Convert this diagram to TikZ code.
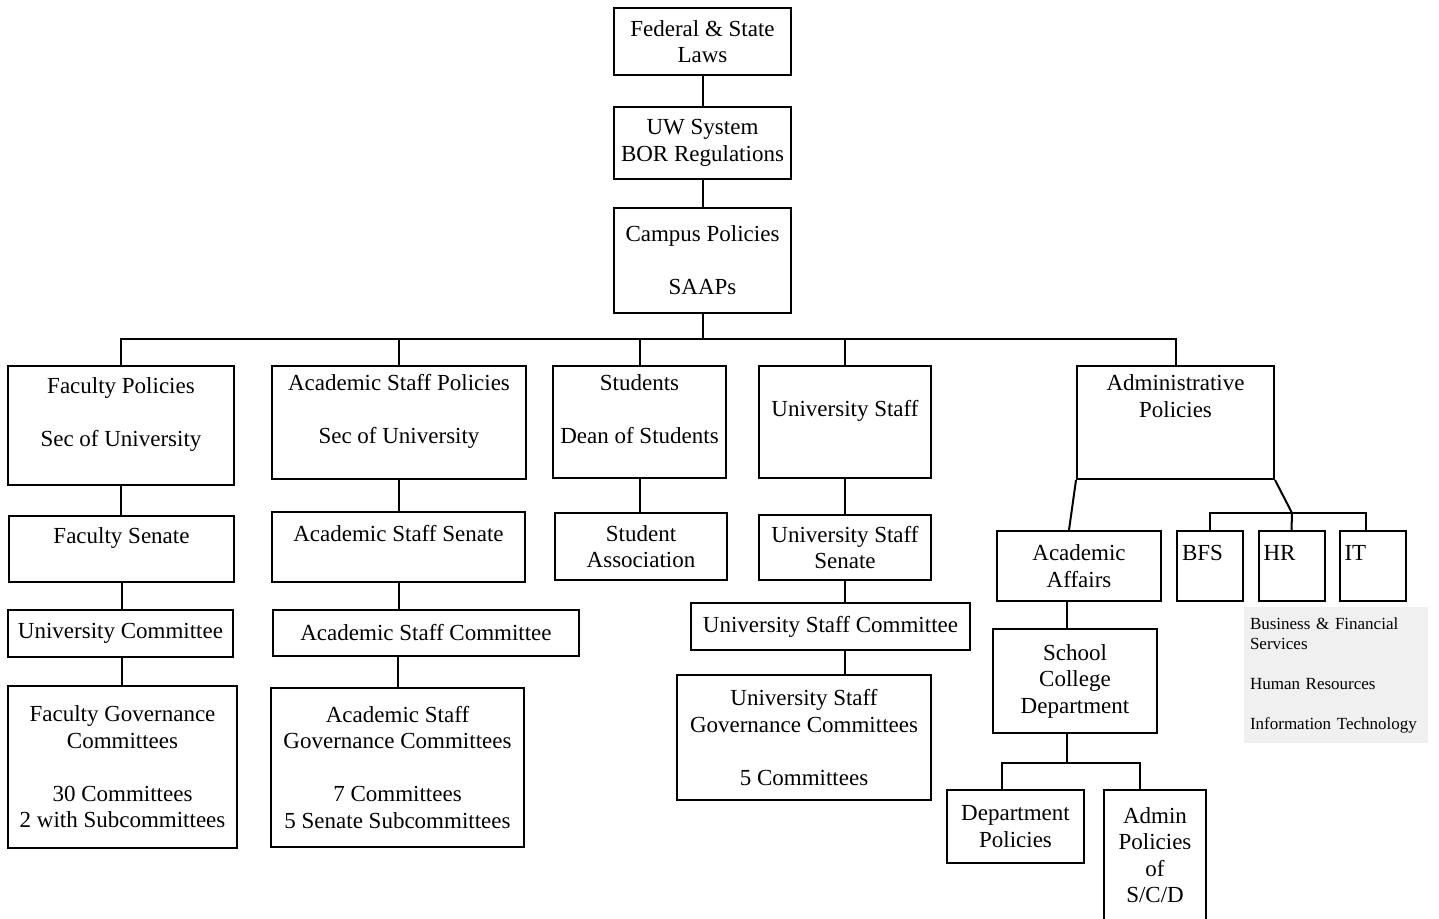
\documentclass[tikz,border=0pt]{standalone}
\usepackage{fontspec}
\setmainfont{Liberation Serif}
\usepackage{tikz}
\usetikzlibrary{positioning}
\tikzset{box/.style={ % Sets the properties for each box
    draw, line width=2pt,
    align=center, inner sep=2pt,
    font=\fontsize{23}{26.5}\selectfont},
    tagbox/.style={ % Small boxes with the label at the top left
    box, align=left, text width=56pt,
    minimum width=66pt, minimum height=70pt},
    keybox/.style={ % Gray key with the long names
    fill=black!6, align=left, inner sep=6pt,
    font=\fontsize{17}{20}\selectfont},
    link/.style={line width=2pt}}

\begin{document}
\begin{tikzpicture}[x=1pt, y=-1pt]
        \useasboundingbox (0,0) rectangle (1439,918);

        % Top of the chain
        \node[box, minimum width=177pt, minimum height=67pt] (law) at (702.5,41.5) {Federal \& State\\Laws};
        \node[box, minimum width=177pt, minimum height=72pt] (bor) at (702.5,143) {UW System\\BOR Regulations};
        \node[box, minimum width=177pt, minimum height=105pt] (campus) at (702.5,260.5) {Campus Policies\\~\\SAAPs};

        % First row
        \node[box, minimum width=226pt, minimum height=119pt] (facpol) at (121,425.5) {Faculty Policies\\~\\Sec of University\\~};
        \node[box, minimum width=254pt, minimum height=113pt] (acapol) at (399,422.5) {Academic Staff Policies\\~\\Sec of University\\~};
        \node[box, minimum width=173pt, minimum height=112pt] (stud) at (639.5,422) {Students\\~\\Dean of Students\\~};
        \node[box, minimum width=172pt, minimum height=112pt] (ustaff) at (845,422) {University Staff\\~};
        \node[box, minimum width=197pt, minimum height=113pt] (admpol) at (1175.5,422.5) {Administrative\\Policies\\~\\~};

        % Senates
        \node[box, minimum width=225pt, minimum height=66pt] (facsen) at (121.5,549) {Faculty Senate\\~};
        \node[box, minimum width=253pt, minimum height=70pt] (acasen) at (398.5,547) {Academic Staff Senate\\~};
        \node[box, minimum width=172pt, minimum height=67pt] (studas) at (641,546.5) {Student\\Association};
        \node[box, minimum width=172pt, minimum height=65pt] (ussen) at (845,547.5) {University Staff\\Senate};

        % Committees
        \node[box, minimum width=225pt, minimum height=47pt] (unicom) at (120.5,633.5) {University Committee};
        \node[box, minimum width=306pt, minimum height=46pt] (acacom) at (426,633) {Academic Staff Committee};
        \node[box, minimum width=279pt, minimum height=47pt] (uscom) at (830.5,626.5) {University Staff Committee};

        % Governance committees
        \node[box, minimum width=229pt, minimum height=162pt] (facgov) at (122.5,767) {Faculty Governance\\Committees\\~\\30 Committees\\2 with Subcommittees};
        \node[box, minimum width=253pt, minimum height=159pt] (acagov) at (397.5,767.5) {Academic Staff\\Governance Committees\\~\\7 Committees\\5 Senate Subcommittees};
        \node[box, minimum width=254pt, minimum height=125pt] (usgov) at (804,737.5) {University Staff\\Governance Committees\\~\\5 Committees};

        % Administrative branch
        \node[box, minimum width=164pt, minimum height=70pt] (acaff) at (1079,566) {Academic\\Affairs};
        \node[box, minimum width=164pt, minimum height=104pt] (school) at (1075,681) {School\\College\\Department};
        \node[box, minimum width=137pt, minimum height=73pt] (deppol) at (1015.5,826.5) {Department\\Policies};
        \node[box, minimum width=102pt, minimum height=130pt] (admscd) at (1155,855) {Admin\\Policies\\of\\S/C/D};
        \node[tagbox] (bfs) at (1210,566) {BFS\\~};
        \node[tagbox] (hr) at (1291.5,566) {HR\\~};
        \node[tagbox] (it) at (1372.5,566) {IT\\~};
        \node[keybox, minimum width=184pt, minimum height=136pt, text width=172pt] (key) at (1336,675) {Business \& Financial\\Services\\~\\Human Resources\\~\\Information Technology};

        % Bus lines
        \coordinate (bus) at (0,339);
        \coordinate (abus) at (1292,513);
        \coordinate (sbus) at (1067,763);

        % Connectors down the middle
        \draw[link] (law) -- (bor);
        \draw[link] (bor) -- (campus);
        \draw[link] (campus.south) -- (campus.south |- bus);
        \draw[link] (facpol.north) -- (facpol.north |- bus) -- (admpol.north |- bus) -- (admpol.north);
        \foreach \n in {acapol, stud, ustaff} {
                \draw[link] (\n.north) -- (\n.north |- bus);
            }

        % Faculty column
        \draw[link] (facpol.south) -- (facpol.south |- facsen.north);
        \draw[link] (facsen.south) -- (facsen.south |- unicom.north);
        \draw[link] (facsen.south |- unicom.south) -- (facsen.south |- facgov.north);

        % Academic staff column
        \draw[link] (acapol.south) -- (acapol.south |- acasen.north);
        \draw[link] (acasen.south) -- (acasen.south |- acacom.north);
        \draw[link] (acagov.north) -- (acagov.north |- acacom.south);

        % Students and university staff
        \draw[link] (stud.south) -- (stud.south |- studas.north);
        \draw[link] (ustaff) -- (ussen);
        \draw[link] (ussen.south) -- (ussen.south |- uscom.north);
        \draw[link] (ussen.south |- uscom.south) -- (ussen.south |- usgov.north);

        % Administrative policies
        \draw[link] (admpol.south west) -- ([xshift=-10pt]acaff.north);
        \draw[link] ([xshift=-8pt]school.north) -- ([xshift=-8pt]school.north |- acaff.south);
        \draw[link] ([xshift=-8pt]school.south) -- (sbus);
        \draw[link] ([xshift=-13.5pt]deppol.north) |- (sbus) -| ([xshift=-15pt]admscd.north);
        \draw[link] (admpol.south east) -- (abus);
        \draw[link] (bfs.north) |- (abus) -| ([xshift=-6.5pt]it.north);
        \draw[link] (hr.north) -- (abus);

    \end{tikzpicture}
\end{document}
